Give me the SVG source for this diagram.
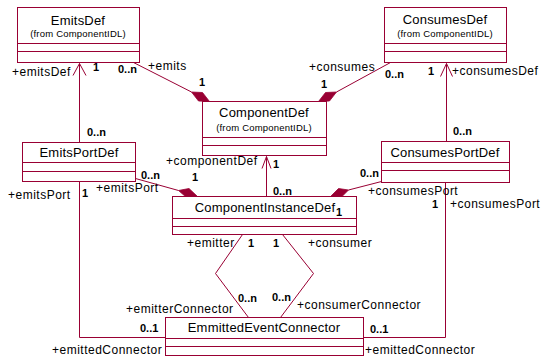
<svg xmlns="http://www.w3.org/2000/svg" width="546" height="356" viewBox="0 0 546 356">
<style>
.box{fill:#fff;stroke:#990033;stroke-width:1}
.sep{stroke:#990033;stroke-width:1}
.ln{fill:none;stroke:#990033;stroke-width:1}
.dia{fill:#990033;stroke:#990033;stroke-width:0.8}
.t{font-family:"Liberation Sans",Arial,sans-serif;font-size:13px;letter-spacing:0.2px;fill:#000;text-anchor:middle}
.s{font-family:"Liberation Sans",Arial,sans-serif;font-size:9.5px;letter-spacing:0.2px;fill:#000;text-anchor:middle}
.l{font-family:"Liberation Sans",Arial,sans-serif;font-size:12px;letter-spacing:0.5px;fill:#000}
.m{font-family:"Liberation Sans",Arial,sans-serif;font-size:11px;font-weight:bold;fill:#000}
</style>
<rect width="546" height="356" fill="#fff"/>
<g id="connectors" transform="translate(0.5,0.5)">
  <line class="ln" x1="133" y1="62" x2="191" y2="91.5"/>
  <polygon class="dia" points="191,91.5 202,92 209,101 198,100.5"/>
  <line class="ln" x1="390" y1="62" x2="336" y2="91.5"/>
  <polygon class="dia" points="336,91.5 325,92 318,101 329,100.5"/>
  <line class="ln" x1="135" y1="178" x2="178" y2="190"/>
  <polygon class="dia" points="178,190 188.5,188 197,196 185.5,196.5"/>
  <line class="ln" x1="381" y1="181" x2="348" y2="189.5"/>
  <polygon class="dia" points="348,189.5 338,188 330,196 341,196.5"/>
  <line class="ln" x1="79" y1="142" x2="79" y2="63"/>
  <polyline class="ln" points="72.5,75 79,63 85.5,75"/>
  <line class="ln" x1="446" y1="141" x2="446" y2="63"/>
  <polyline class="ln" points="440,76 446,63 452,76"/>
  <line class="ln" x1="266" y1="196" x2="266" y2="156"/>
  <polyline class="ln" points="261.5,168 266,156 270.5,168"/>
  <polyline class="ln" points="79,181 79,337 165,337"/>
  <polyline class="ln" points="445,182 445,337 363,337"/>
  <polyline class="ln" points="242,234 215,273 248,317"/>
  <polyline class="ln" points="282,234 313,273 280,317"/>
</g>
<g id="EmitsDef">
  <g transform="translate(0.5,0.5)">
    <rect class="box" x="17" y="7" width="122" height="55"/>
    <line class="sep" x1="17" y1="43" x2="139" y2="43"/>
    <line class="sep" x1="17" y1="51" x2="139" y2="51"/>
  </g>
  <text class="t" x="78" y="25">EmitsDef</text>
  <text class="s" x="78" y="37">(from ComponentIDL)</text>
</g>
<g id="ConsumesDef">
  <g transform="translate(0.5,0.5)">
    <rect class="box" x="384" y="7" width="122" height="55"/>
    <line class="sep" x1="384" y1="43" x2="506" y2="43"/>
    <line class="sep" x1="384" y1="51" x2="506" y2="51"/>
  </g>
  <text class="t" x="445" y="24">ConsumesDef</text>
  <text class="s" x="445" y="37">(from ComponentIDL)</text>
</g>
<g id="ComponentDef">
  <g transform="translate(0.5,0.5)">
    <rect class="box" x="202" y="101" width="124" height="54"/>
    <line class="sep" x1="202" y1="137" x2="326" y2="137"/>
    <line class="sep" x1="202" y1="145" x2="326" y2="145"/>
  </g>
  <text class="t" x="264" y="117">ComponentDef</text>
  <text class="s" x="264" y="131">(from ComponentIDL)</text>
</g>
<g id="EmitsPortDef">
  <g transform="translate(0.5,0.5)">
    <rect class="box" x="22" y="142" width="113" height="39"/>
    <line class="sep" x1="22" y1="162" x2="135" y2="162"/>
    <line class="sep" x1="22" y1="171" x2="135" y2="171"/>
  </g>
  <text class="t" x="79" y="157">EmitsPortDef</text>
</g>
<g id="ConsumesPortDef">
  <g transform="translate(0.5,0.5)">
    <rect class="box" x="381" y="141" width="128" height="41"/>
    <line class="sep" x1="381" y1="162" x2="509" y2="162"/>
    <line class="sep" x1="381" y1="170" x2="509" y2="170"/>
  </g>
  <text class="t" x="445" y="157">ConsumesPortDef</text>
</g>
<g id="ComponentInstanceDef">
  <g transform="translate(0.5,0.5)">
    <rect class="box" x="172" y="196" width="184" height="38"/>
    <line class="sep" x1="172" y1="218" x2="356" y2="218"/>
    <line class="sep" x1="172" y1="226" x2="356" y2="226"/>
  </g>
  <text class="t" x="265" y="212">ComponentInstanceDef</text>
</g>
<g id="EmmittedEventConnector">
  <g transform="translate(0.5,0.5)">
    <rect class="box" x="165" y="317" width="198" height="38"/>
    <line class="sep" x1="165" y1="338" x2="363" y2="338"/>
    <line class="sep" x1="165" y1="346" x2="363" y2="346"/>
  </g>
  <text class="t" x="264" y="332">EmmittedEventConnector</text>
</g>
<g id="labels">
  <text class="l" x="12" y="76">+emitsDef</text>
  <text class="m" x="93" y="71">1</text>
  <text class="m" x="118" y="73">0..n</text>
  <text class="l" x="148" y="70">+emits</text>
  <text class="m" x="199" y="86">1</text>
  <text class="m" x="321" y="88">1</text>
  <text class="l" x="309" y="71">+consumes</text>
  <text class="m" x="385" y="78">0..n</text>
  <text class="m" x="428" y="75">1</text>
  <text class="l" x="452" y="75">+consumesDef</text>
  <text class="l" x="166" y="165">+componentDef</text>
  <text class="m" x="273" y="168">1</text>
  <text class="m" x="87" y="136">0..n</text>
  <text class="m" x="453" y="135">0..n</text>
  <text class="m" x="141" y="179">0..n</text>
  <text class="m" x="192" y="181">1</text>
  <text class="l" x="96" y="192">+emitsPort</text>
  <text class="l" x="8" y="199">+emitsPort</text>
  <text class="m" x="82" y="197">1</text>
  <text class="m" x="273" y="195">0..n</text>
  <text class="m" x="360" y="177">0..n</text>
  <text class="l" x="368" y="195">+consumesPort</text>
  <text class="m" x="432" y="208">1</text>
  <text class="l" x="450" y="208">+consumesPort</text>
  <text class="m" x="336" y="216">1</text>
  <text class="l" x="187" y="247">+emitter</text>
  <text class="m" x="248" y="247">1</text>
  <text class="m" x="273" y="247">1</text>
  <text class="l" x="308" y="247">+consumer</text>
  <text class="m" x="238" y="302">0..n</text>
  <text class="m" x="272" y="301">0..n</text>
  <text class="l" x="126" y="313">+emitterConnector</text>
  <text class="l" x="297" y="309">+consumerConnector</text>
  <text class="m" x="140" y="332">0..1</text>
  <text class="m" x="370" y="333">0..1</text>
  <text class="l" x="52" y="354">+emittedConnector</text>
  <text class="l" x="365" y="354">+emittedConnector</text>
</g>
</svg>
